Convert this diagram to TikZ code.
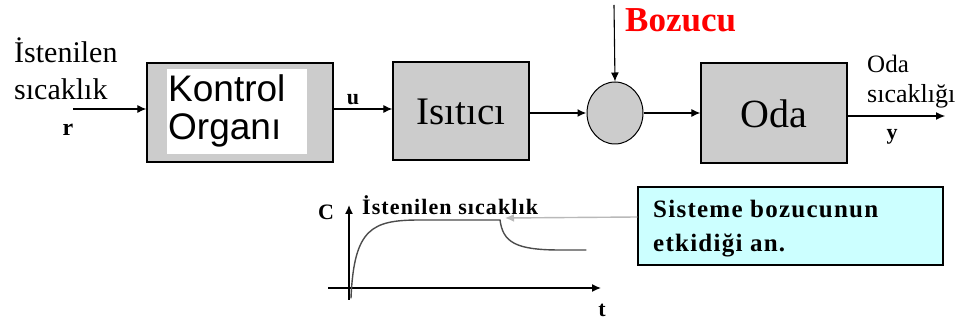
\documentclass[tikz,border=0pt]{standalone}
\usepackage{fontspec}
\setmainfont{Liberation Serif}
\newfontfamily\arialfont{Liberation Sans}
\newfontfamily\spacedbold[LetterSpace=5]{Liberation Serif Bold}
\usetikzlibrary{arrows.meta,shapes.geometric}
\definecolor{boxgray}{HTML}{CCCCCC}
\definecolor{callcyan}{HTML}{CCFFFF}
\definecolor{bozred}{HTML}{FF0000}
\begin{document}
\begin{tikzpicture}[x=1pt,y=-1pt,
  blk/.style={draw=black, line width=1.3pt, fill=boxgray, inner sep=0pt},
  arr/.style={-{Latex[length=9pt,width=8pt]}, line width=1.1pt},
  lbl/.style={inner sep=0pt, anchor=base west},
  fs/.style={font=\fontsize{#1}{#1}\selectfont},
  bfs/.style={font=\fontsize{#1}{#1}\selectfont\bfseries},
  sbfs/.style={font=\spacedbold\fontsize{#1}{#1}\selectfont}]
\useasboundingbox (0,0) rectangle (959,320);

% blocks
\node[blk, minimum width=186pt, minimum height=99pt] (kon) at (240,112.5) {};
\node[fill=white, inner sep=0pt, minimum width=140pt, minimum height=85pt] (konin) at (237,111.5) {};
\node[lbl, font=\arialfont\fontsize{37}{37}\selectfont] (kt1) at (168,102) {Kontrol};
\node[lbl, font=\arialfont\fontsize{37}{37}\selectfont] (kt2) at (168,140) {Organı};

\node[blk, minimum width=136pt, minimum height=98pt] (isi) at (461,111) {};
\node[inner sep=0pt, anchor=base, fs=39] (isit) at (461,125) {Isıtıcı};

\node[blk, ellipse, minimum width=56pt, minimum height=62pt, line width=1pt] (sum) at (615,113) {};

\node[blk, minimum width=146pt, minimum height=100pt] (oda) at (774,113) {};
\node[inner sep=0pt, anchor=base, fs=40] (odat) at (774,128) {Oda};

% labels
\node[lbl, fs=30] (ist1) at (14,63) {İstenilen};
\node[lbl, fs=30] (ist2) at (14,100) {sıcaklık};
\node[inner sep=0pt, anchor=base, bfs=24] (rl) at (68,136) {r};
\node[inner sep=0pt, anchor=base, bfs=22] (ul) at (353,105) {u};
\node[lbl, bfs=35, text=bozred] (boz) at (625,32) {Bozucu};
\node[lbl, fs=25] (oda1) at (867,73) {Oda};
\node[lbl, fs=26] (oda2) at (867,103) {sıcaklığı};
\node[inner sep=0pt, anchor=base, bfs=22] (yl) at (892,140) {y};

% connectors
\coordinate (rin) at (73,109);
\coordinate (ulev) at (0,109);
\coordinate (bz) at (614,5);
\coordinate (yo) at (945,116);
\draw[arr] (rin) -- (rin -| kon.west);
\draw[arr] (kon.east |- ulev) -- (isi.west |- ulev);
\draw[arr, line width=2.2pt] (isi.east |- sum) -- (sum.west);
\draw[arr] (bz) -- (sum.north);
\draw[arr] (sum.east) -- (oda.west |- sum);
\draw[arr] (oda.east |- yo) -- (yo);

% graph
\coordinate (ya0) at (349,300);
\coordinate (ya1) at (349,205);
\coordinate (xa0) at (328,288);
\coordinate (xa1) at (601,288);
\draw[arr, line width=1.4pt] (ya0) -- (ya1);
\draw[arr, line width=1.4pt] (xa0) -- (xa1);
\node[inner sep=0pt, anchor=base, bfs=22] (cl) at (326,220) {C};
\node[inner sep=0pt, anchor=base, bfs=22] (tl) at (602,317) {t};
\node[lbl, sbfs=22] (ist3) at (362,215) {İstenilen sıcaklık};
\draw[line width=1.4pt, black!70, line cap=round]
  (351,298) .. controls (354,228) and (372,220) .. (420,220) -- (500,220)
  .. controls (503,242) and (515,250) .. (560,250) -- (586,250);

% callout
\node[draw=black, line width=1.3pt, fill=callcyan, minimum width=305pt, minimum height=78pt, inner sep=0pt] (call) at (790.5,226) {};
\node[lbl, sbfs=25] (c1) at (653,218) {Sisteme bozucunun};
\node[lbl, sbfs=25] (c2) at (653,252) {etkidiği an.};
\coordinate (ptr) at (505,218);
\coordinate (plev) at (0,217);
\draw[-{Latex[length=9pt,width=8pt]}, line width=1.4pt, gray!55] (call.west |- plev) -- (ptr);
\end{tikzpicture}
\end{document}
